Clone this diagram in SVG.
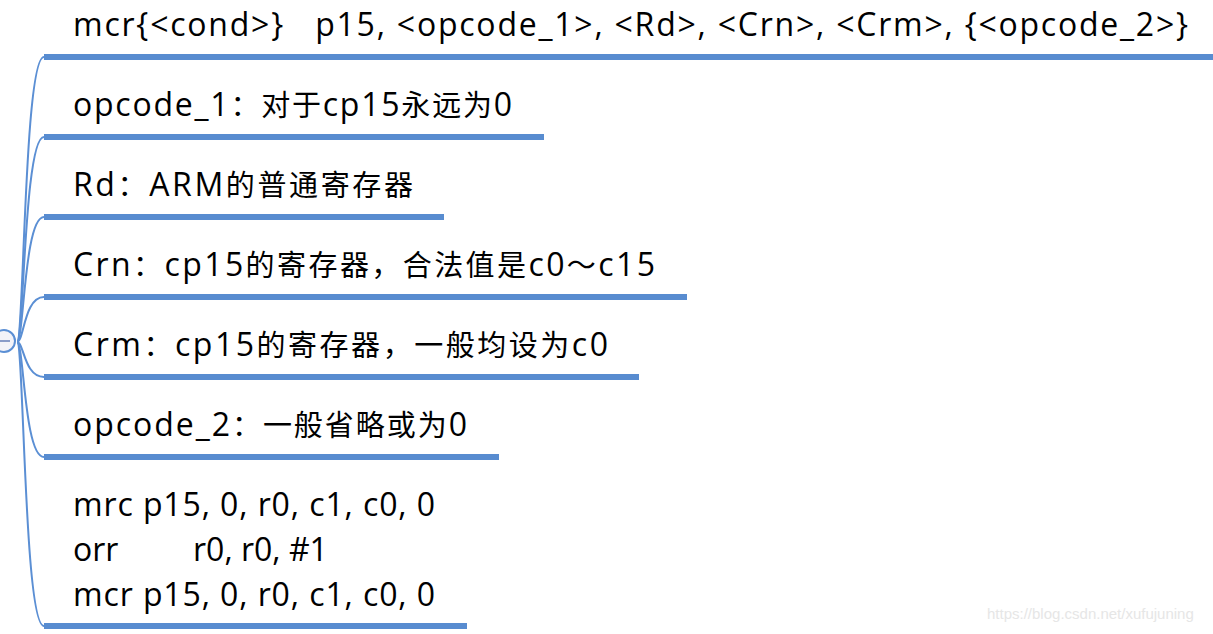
<svg xmlns="http://www.w3.org/2000/svg" width="1213" height="634" viewBox="0 0 1213 634">
<style>
.t{font-family:"Open Sans","Noto Sans CJK SC",sans-serif;font-size:32px;fill:#000;white-space:pre}
.k{font-family:"Noto Sans CJK SC",sans-serif;font-size:29px}
.u{stroke:#588cd0;stroke-width:6;fill:none}
.c{stroke:#5b8fd4;stroke-width:2;fill:none}
.wm{font-family:"Liberation Sans",Arial,sans-serif;font-size:15px;fill:#e6e6e6}
</style>
<rect width="1213" height="634" fill="#fff"/>
<g id="connectors">
<path class="c" d="M17,342 C24,342 24,57 44,57"/>
<path class="c" d="M17,342 C24,342 24,137 44,137"/>
<path class="c" d="M17,342 C24,342 24,217 44,217"/>
<path class="c" d="M17,342 C24,342 24,297 44,297"/>
<path class="c" d="M17,342 C24,342 24,377 44,377"/>
<path class="c" d="M17,342 C24,342 24,457 44,457"/>
<path class="c" d="M17,342 C24,342 24,626 44,626"/>
</g>
<g id="root-toggle">
<circle cx="4" cy="341" r="11" fill="#f3f3f8" stroke="#5b8fd4" stroke-width="2"/>
<line x1="0" y1="341" x2="10" y2="341" stroke="#8a9cc8" stroke-width="2"/>
</g>
<g id="node1">
<text class="t" x="73" y="36" textLength="1115" lengthAdjust="spacing">mcr{&lt;cond&gt;}   p15, &lt;opcode_1&gt;, &lt;Rd&gt;, &lt;Crn&gt;, &lt;Crm&gt;, {&lt;opcode_2&gt;}</text>
<line class="u" x1="44" y1="57" x2="1213" y2="57"/>
</g>
<g id="node2">
<text class="t" x="73" y="116" textLength="439" lengthAdjust="spacing">opcode_1<tspan class="k">：对于</tspan>cp15<tspan class="k">永远为</tspan>0</text>
<line class="u" x1="44" y1="137" x2="544" y2="137"/>
</g>
<g id="node3">
<text class="t" x="73" y="196" textLength="340" lengthAdjust="spacing">Rd<tspan class="k">：</tspan>ARM<tspan class="k">的普通寄存器</tspan></text>
<line class="u" x1="44" y1="217" x2="444" y2="217"/>
</g>
<g id="node4">
<text class="t" x="73" y="276" textLength="582" lengthAdjust="spacing">Crn<tspan class="k">：</tspan>cp15<tspan class="k">的寄存器，合法值是</tspan>c0<tspan class="k">～</tspan>c15</text>
<line class="u" x1="44" y1="297" x2="687" y2="297"/>
</g>
<g id="node5">
<text class="t" x="73" y="356" textLength="535" lengthAdjust="spacing">Crm<tspan class="k">：</tspan>cp15<tspan class="k">的寄存器，一般均设为</tspan>c0</text>
<line class="u" x1="44" y1="377" x2="639" y2="377"/>
</g>
<g id="node6">
<text class="t" x="73" y="436" textLength="394" lengthAdjust="spacing">opcode_2<tspan class="k">：一般省略或为</tspan>0</text>
<line class="u" x1="44" y1="457" x2="499" y2="457"/>
</g>
<g id="node7">
<text class="t" x="73" y="516" textLength="362" lengthAdjust="spacing">mrc p15, 0, r0, c1, c0, 0</text>
<text class="t" y="561"><tspan x="73">orr</tspan><tspan x="193">r0, r0, #1</tspan></text>
<text class="t" x="73" y="606" textLength="362" lengthAdjust="spacing">mcr p15, 0, r0, c1, c0, 0</text>
<line class="u" x1="44" y1="626" x2="467" y2="626"/>
</g>
<text class="wm" x="987" y="619">https://blog.csdn.net/xufujuning</text>
</svg>
